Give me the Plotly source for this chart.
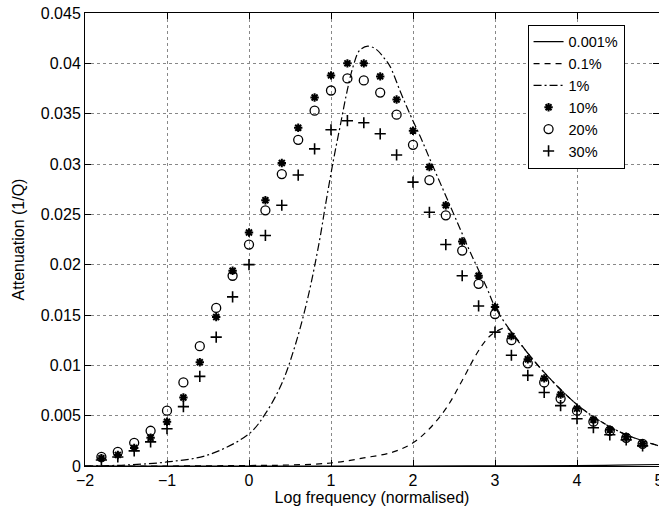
import plotly.graph_objects as go

# ---- data ----
freq_pts = [-1.8, -1.6, -1.4, -1.2, -1.0, -0.8, -0.6, -0.4, -0.2, 0.0,
            0.2, 0.4, 0.6, 0.8, 1.0, 1.2, 1.4, 1.6, 1.8, 2.0,
            2.2, 2.4, 2.6, 2.8, 3.0, 3.2, 3.4, 3.6, 3.8, 4.0,
            4.2, 4.4, 4.6, 4.8]

att_10 = [0.00077, 0.0011, 0.0018, 0.0028, 0.0044, 0.0068, 0.0103, 0.0148, 0.0194, 0.0232,
          0.0264, 0.0301, 0.0336, 0.0366, 0.0388, 0.0400, 0.0400, 0.0387, 0.0364, 0.0333,
          0.0297, 0.0259, 0.0223, 0.0189, 0.0158, 0.0129, 0.0106, 0.0087, 0.0071, 0.0057,
          0.0046, 0.0036, 0.0029, 0.0022]

att_20 = [0.0009, 0.0014, 0.0023, 0.0035, 0.0055, 0.0083, 0.0119, 0.0157, 0.0189, 0.0220,
          0.0254, 0.0290, 0.0324, 0.0353, 0.0373, 0.0385, 0.0383, 0.0371, 0.0349, 0.0319,
          0.0284, 0.0249, 0.0214, 0.0181, 0.0151, 0.0125, 0.0102, 0.0083, 0.0067, 0.0055,
          0.0044, 0.0035, 0.0028, 0.0022]

att_30 = [0.0006, 0.0009, 0.0015, 0.0024, 0.0037, 0.0059, 0.0089, 0.0128, 0.0168, 0.0200,
          0.0229, 0.0259, 0.0289, 0.0315, 0.0334, 0.0343, 0.0341, 0.0330, 0.0309, 0.0282,
          0.0252, 0.0220, 0.0189, 0.0159, 0.0133, 0.0110, 0.0090, 0.0073, 0.0060, 0.0047,
          0.0038, 0.0031, 0.0026, 0.0020]

x_1pct = [-2.0, -1.5, -1.0, -0.5, 0.0, 0.2, 0.4, 0.56, 0.72, 0.86, 0.93, 1.03, 1.11, 1.19,
          1.27, 1.35, 1.45, 1.55, 1.65, 1.72, 1.84, 1.96, 2.09, 2.21, 2.37, 2.53, 2.70,
          2.90, 3.0, 3.2, 3.4, 3.6, 3.8, 4.0, 4.2, 4.4, 4.6, 4.8, 5.0]
y_1pct = [0.0000, 0.0001, 0.0004, 0.0011, 0.0032, 0.0052, 0.0082, 0.0119, 0.0168, 0.0224,
          0.0258, 0.0304, 0.0337, 0.0370, 0.0397, 0.0413, 0.0417, 0.0414, 0.0405, 0.0397,
          0.0373, 0.0350, 0.0327, 0.0304, 0.0274, 0.0244, 0.0212, 0.0177, 0.0158, 0.0133,
          0.0112, 0.0093, 0.0076, 0.0061, 0.0049, 0.0039, 0.0031, 0.0025, 0.0020]

x_01pct = [-2.0, -1.0, 0.0, 0.5, 1.0, 1.4, 1.76, 2.0, 2.2, 2.41, 2.6, 2.78, 2.90, 3.0,
           3.14, 3.26, 3.4, 3.6, 3.8, 4.0, 4.2, 4.4, 4.6, 4.8, 5.0]
y_01pct = [0.0, 0.0, 0.00005, 0.0001, 0.0003, 0.0008, 0.0014, 0.0023, 0.0037, 0.0058,
           0.0085, 0.0112, 0.0126, 0.0133, 0.0137, 0.0127, 0.0112, 0.0093, 0.0076, 0.0061,
           0.0049, 0.0039, 0.0031, 0.0025, 0.0020]

x_0001pct = [-2.0, 0.0, 2.0, 3.0, 4.0, 4.5, 5.0]
y_0001pct = [0.0, 0.0, 0.0, 0.00001, 0.00004, 0.00008, 0.00015]

x_ticks = [-2, -1, 0, 1, 2, 3, 4, 5]
x_ticktext = ["\u22122", "\u22121", "0", "1", "2", "3", "4", "5"]
y_ticks = [0, 0.005, 0.01, 0.015, 0.02, 0.025, 0.03, 0.035, 0.04, 0.045]
y_ticktext = ["0", "0.005", "0.01", "0.015", "0.02", "0.025", "0.03", "0.035", "0.04", "0.045"]

FONT = "Liberation Sans, Arial, sans-serif"

fig = go.Figure()
fig.add_trace(go.Scatter(x=x_0001pct, y=y_0001pct, mode="lines", name="0.001%",
                         line=dict(color="black", width=1.2, dash="solid", shape="spline")))
fig.add_trace(go.Scatter(x=x_01pct, y=y_01pct, mode="lines", name="0.1%",
                         line=dict(color="black", width=1.2, dash="6px,5px", shape="spline")))
fig.add_trace(go.Scatter(x=x_1pct, y=y_1pct, mode="lines", name="1%",
                         line=dict(color="black", width=1.2, dash="8px,3px,2px,3px", shape="spline")))
fig.add_trace(go.Scatter(x=freq_pts, y=att_10, mode="markers", name="10%",
                         marker=dict(symbol="asterisk-open", size=7, color="black",
                                     line=dict(color="black", width=2))))
fig.add_trace(go.Scatter(x=freq_pts, y=att_20, mode="markers", name="20%",
                         marker=dict(symbol="circle-open", size=9, color="black",
                                     line=dict(color="black", width=1.3))))
fig.add_trace(go.Scatter(x=freq_pts, y=att_30, mode="markers", name="30%",
                         marker=dict(symbol="cross-thin-open", size=8, color="black",
                                     line=dict(color="black", width=1.6))))

axis_common = dict(
    showline=True, linecolor="black", linewidth=1, mirror="allticks",
    ticks="inside", ticklen=6, tickcolor="black", tickwidth=1,
    showgrid=True, gridcolor="#888888", griddash="dot", gridwidth=1,
    zeroline=False, automargin=False, ticklabeloverflow="allow",
    tickfont=dict(family=FONT, size=16, color="black"),
)

fig.update_xaxes(range=[-2, 5], tickvals=x_ticks, ticktext=x_ticktext,
                 title=dict(text="Log frequency (normalised)", font=dict(family=FONT, size=16, color="black"),
                            standoff=2),
                 **axis_common)
fig.update_yaxes(range=[0, 0.045], tickvals=y_ticks, ticktext=y_ticktext,
                 title=dict(text="Attenuation (1/Q)", font=dict(family=FONT, size=16, color="black"),
                            standoff=12),
                 **axis_common)

fig.update_layout(
    width=659, height=512,
    margin=dict(l=85, r=0, t=13, b=46),
    paper_bgcolor="white", plot_bgcolor="white",
    font=dict(family=FONT, size=16, color="black"),
    showlegend=True,
    legend=dict(x=0.771, y=0.974, xanchor="left", yanchor="top",
                bgcolor="white", bordercolor="black", borderwidth=1,
                font=dict(family=FONT, size=14.5, color="black"),
                tracegroupgap=0, itemwidth=30),
)

# remove the page's default body margin so the 659x512 figure fills the window
fig.write_html("out.html",
               config={"displayModeBar": False},
               post_script="document.body.style.margin='0';document.body.style.overflow='hidden';")
